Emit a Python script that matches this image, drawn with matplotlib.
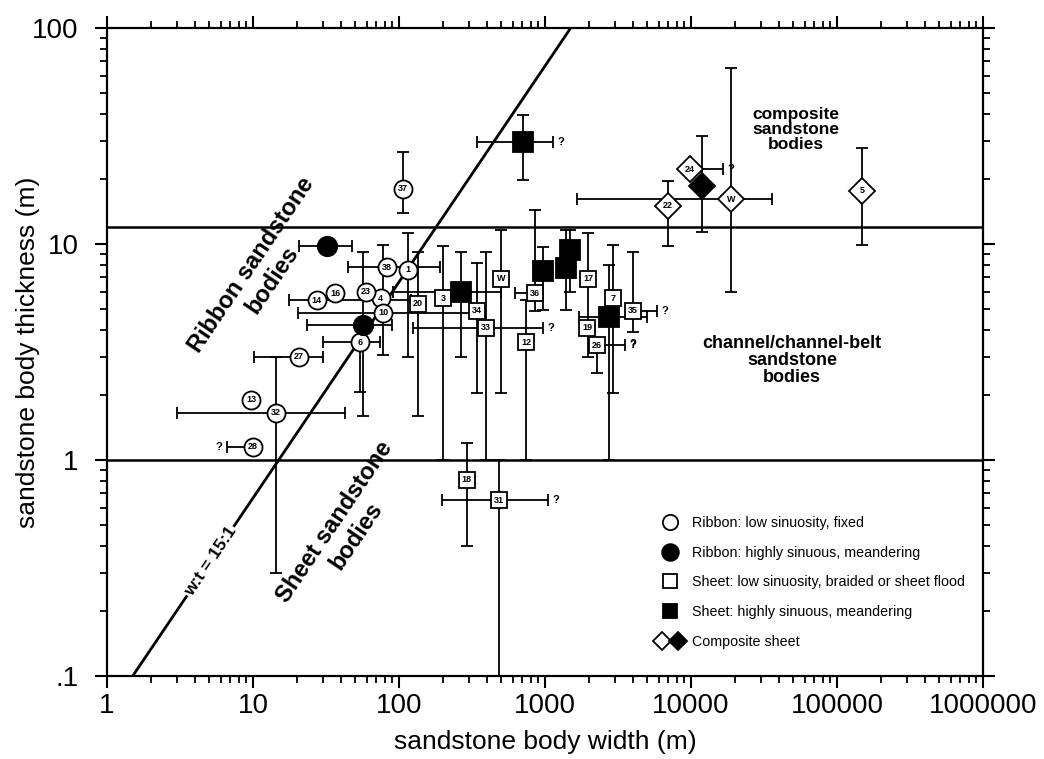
import numpy as np
import matplotlib.pyplot as plt
from matplotlib.lines import Line2D
from matplotlib.legend_handler import HandlerTuple
from matplotlib.ticker import LogLocator, NullFormatter, FixedLocator, FixedFormatter

plt.rcParams['font.family'] = ['Liberation Sans', 'DejaVu Sans']

N = None

# Ribbon: low sinuosity, fixed  (open circles)
rf_lab = ['37', '38', '1', '4', '14', '16', '23', '10', '6', '27', '32', '13', '28']
rf_x = [107, 83, 115, 75, 27.4, 36.5, 59, 78, 54, 20.7, 14.4, 9.7, 10]
rf_y = [18, 7.8, 7.6, 5.6, 5.5, 5.9, 6.0, 4.8, 3.5, 3.0, 1.65, 1.9, 1.15]
rf_xlo = [N, 44.7, N, N, 17.6, N, N, 20.3, 30.2, 10.2, 3.0, N, 6.6]
rf_xhi = [N, 191, N, N, 120, N, N, 320, 74, 30.2, 42.7, N, N]
rf_ylo = [13.9, N, 3.0, N, N, N, N, 3.06, 2.07, N, 0.3, N, N]
rf_yhi = [26.7, N, 11.2, N, N, N, N, 9.9, N, N, 3.0, N, N]
rf_q = ['', '', '', '', '', '', '', '', '', '', '', '', 'l']

# Ribbon: highly sinuous, meandering  (filled circles)
rm_x = [32, 57]
rm_y = [9.8, 4.2]
rm_xlo = [20.7, 23.4]
rm_xhi = [47.6, 90]
rm_ylo = [N, 1.6]
rm_yhi = [N, 9.2]

# Sheet: low sinuosity, braided or sheet flood  (open squares)
sb_lab = ['20', '3', '34', '33', 'W', '36', '12', '17', '7', '35', '19', '26', '18', '31']
sb_x = [135, 200, 342, 394, 500, 855, 741, 1971, 2924, 4009, 1940, 2271, 292, 484]
sb_y = [5.3, 5.6, 4.9, 4.1, 6.9, 5.9, 3.5, 6.9, 5.6, 4.9, 4.1, 3.4, 0.81, 0.65]
sb_xlo = [N, N, N, 125, N, 623, N, N, N, N, N, N, N, 197]
sb_xhi = [N, N, N, 970, N, N, N, N, N, 5853, N, 3532, N, 1049]
sb_ylo = [1.6, 1.0, 2.04, 1.0, 2.04, 4.9, 1.0, 3.0, 2.04, 3.9, N, 2.53, 0.40, 0.1]
sb_yhi = [9.2, 9.8, 8.2, 9.2, 11.6, 14.4, 5.5, 11.2, 9.9, 9.2, N, N, 1.2, 1.0]
sb_q = ['', '', '', 'r', '', '', '', '', '', 'rb', '', 'r', '', 'r']

# Sheet: highly sinuous, meandering  (filled squares)
sm_x = [707, 266, 969, 1484, 1392, 2744]
sm_y = [29.6, 6.0, 7.5, 9.4, 7.7, 4.6]
sm_xlo = [342, 91, N, N, N, 1709]
sm_xhi = [1135, 500, N, N, N, 4997]
sm_ylo = [19.8, 3.0, 4.94, 6.0, 4.94, 1.0]
sm_yhi = [39.5, 9.2, 9.7, 11.6, 11.6, 8.0]
sm_q = ['r', '', '', '', '', '']

# Composite sheet  (open / filled diamonds)
co_lab = ['24', '22', 'W', '5']
co_x = [9843, 6955, 18790, 148300]
co_y = [22.2, 15.0, 16.1, 17.6]
co_xlo = [N, N, 1656, N]
co_xhi = [16560, N, 35870, N]
co_ylo = [N, 9.8, 6.0, 9.9]
co_yhi = [N, 19.6, 65, 27.8]
co_q = ['r', '', '', '']
cf_x = [11900]
cf_y = [18.6]
cf_ylo = [11.4]
cf_yhi = [31.6]

legend_labels = ['Ribbon: low sinuosity, fixed',
                 'Ribbon: highly sinuous, meandering',
                 'Sheet: low sinuosity, braided or sheet flood',
                 'Sheet: highly sinuous, meandering',
                 'Composite sheet']

x_ticks = [1, 10, 100, 1000, 10000, 100000, 1000000]
x_ticklabels = ['1', '10', '100', '1000', '10000', '100000', '1000000']
y_ticks = [0.1, 1, 10, 100]
y_ticklabels = ['.1', '1', '10', '100']

fig = plt.figure(figsize=(10.44, 7.59), dpi=100)
ax = fig.add_axes([0.1025, 0.1094, 0.8391, 0.8538])
ax.set_xscale('log')
ax.set_yscale('log')
ax.set_xlim(1, 1e6)
ax.set_ylim(0.1, 100)

LW = 1.3


def draw_bars(x, y, xlo, xhi, ylo, yhi, q=None):
    for i in range(len(x)):
        if xlo[i] is not None or xhi[i] is not None:
            lo = x[i] - xlo[i] if xlo[i] is not None else 0
            hi = xhi[i] - x[i] if xhi[i] is not None else 0
            ax.errorbar(x[i], y[i], xerr=[[lo], [hi]], fmt='none', ecolor='k',
                        elinewidth=LW, capsize=4, capthick=LW, zorder=2)
        if ylo[i] is not None or yhi[i] is not None:
            lo = y[i] - ylo[i] if ylo[i] is not None else 0
            hi = yhi[i] - y[i] if yhi[i] is not None else 0
            ax.errorbar(x[i], y[i], yerr=[[lo], [hi]], fmt='none', ecolor='k',
                        elinewidth=LW, capsize=4, capthick=LW, zorder=2)
        if q is None:
            continue
        if 'r' in q[i]:
            ax.text(xhi[i] * 1.07, y[i], '?', ha='left', va='center',
                    fontsize=8, fontweight='bold', zorder=5)
        if 'l' in q[i]:
            ax.text(xlo[i] / 1.07, y[i], '?', ha='right', va='center',
                    fontsize=8, fontweight='bold', zorder=5)
        if 'b' in q[i]:
            ax.text(x[i], ylo[i] / 1.08, '?', ha='center', va='top',
                    fontsize=8, fontweight='bold', zorder=5)


def draw_marks(x, y, marker, face, ms, labels=None):
    ax.plot(x, y, ls='none', marker=marker, mfc=face, mec='k', mew=LW,
            ms=ms, zorder=4)
    if labels:
        for xi, yi, t in zip(x, y, labels):
            ax.text(xi, yi, t, ha='center', va='center', fontsize=6.5,
                    fontweight='bold', zorder=5)


draw_bars(rf_x, rf_y, rf_xlo, rf_xhi, rf_ylo, rf_yhi, rf_q)
draw_bars(rm_x, rm_y, rm_xlo, rm_xhi, rm_ylo, rm_yhi)
draw_bars(sb_x, sb_y, sb_xlo, sb_xhi, sb_ylo, sb_yhi, sb_q)
draw_bars(sm_x, sm_y, sm_xlo, sm_xhi, sm_ylo, sm_yhi, sm_q)
draw_bars(co_x, co_y, co_xlo, co_xhi, co_ylo, co_yhi, co_q)
draw_bars(cf_x, cf_y, [N], [N], cf_ylo, cf_yhi)

draw_marks(rf_x, rf_y, 'o', 'white', 13, rf_lab)
draw_marks(rm_x, rm_y, 'o', 'black', 14)
draw_marks(sb_x, sb_y, 's', 'white', 12, sb_lab)
draw_marks(sm_x, sm_y, 's', 'black', 14)
draw_marks(co_x, co_y, 'D', 'white', 13, co_lab)
draw_marks(cf_x, cf_y, 'D', 'black', 13)

# class boundaries
ax.axhline(12, color='k', lw=1.8, zorder=1)
ax.axhline(1, color='k', lw=1.8, zorder=1)

# width:thickness = 15:1 line
w_line = np.logspace(0, 6, 200)
ax.plot(w_line, w_line / 15, color='k', lw=2, zorder=1)
p1 = ax.transData.transform((1, 1 / 15))
p2 = ax.transData.transform((1000, 1000 / 15))
ang = np.degrees(np.arctan2(p2[1] - p1[1], p2[0] - p1[0]))
ax.text(5.1, 5.1 / 15, 'w:t = 15:1', rotation=ang, ha='center', va='center',
        fontsize=12.5, fontweight='bold', rotation_mode='anchor', zorder=3,
        bbox=dict(facecolor='white', edgecolor='none', pad=1))

ax.text(11.5, 7.4, 'Ribbon sandstone\nbodies', rotation=ang, ha='center',
        va='center', fontsize=17, fontweight='bold', rotation_mode='anchor',
        linespacing=1.15)
ax.text(43, 0.48, 'Sheet sandstone\nbodies', rotation=ang, ha='center',
        va='center', fontsize=17, fontweight='bold', rotation_mode='anchor',
        linespacing=1.15)
ax.text(52400, 34, 'composite\nsandstone\nbodies', ha='center', va='center',
        fontsize=12.5, fontweight='bold', linespacing=1.0)
ax.text(49200, 2.9, 'channel/channel-belt\nsandstone\nbodies', ha='center',
        va='center', fontsize=13, fontweight='bold', linespacing=1.0)

# axes styling
ax.xaxis.set_major_locator(FixedLocator(x_ticks))
ax.xaxis.set_major_formatter(FixedFormatter(x_ticklabels))
ax.yaxis.set_major_locator(FixedLocator(y_ticks))
ax.yaxis.set_major_formatter(FixedFormatter(y_ticklabels))
ax.xaxis.set_minor_locator(LogLocator(base=10, subs=np.arange(2, 10), numticks=20))
ax.yaxis.set_minor_locator(LogLocator(base=10, subs=np.arange(2, 10), numticks=20))
ax.xaxis.set_minor_formatter(NullFormatter())
ax.yaxis.set_minor_formatter(NullFormatter())
ax.tick_params(which='both', direction='out', top=True, right=True, labelsize=20)
ax.tick_params(which='major', length=8.5, width=1.5)
ax.tick_params(which='minor', length=5, width=1.3)
ax.tick_params(axis='y', pad=12)
ax.tick_params(axis='x', pad=4)
for s in ax.spines.values():
    s.set_linewidth(1.6)

ax.set_xlabel('sandstone body width (m)', fontsize=19)
ax.set_ylabel('sandstone body thickness (m)', fontsize=19)
ax.xaxis.set_label_coords(0.5, -0.083)
ax.yaxis.set_label_coords(-0.077, 0.5)

# legend
handles = [
    Line2D([], [], ls='none', marker='o', mfc='white', mec='k', mew=LW, ms=11),
    Line2D([], [], ls='none', marker='o', mfc='black', mec='k', mew=LW, ms=12),
    Line2D([], [], ls='none', marker='s', mfc='white', mec='k', mew=LW, ms=10),
    Line2D([], [], ls='none', marker='s', mfc='black', mec='k', mew=LW, ms=10),
    (Line2D([], [], ls='none', marker='D', mfc='white', mec='k', mew=LW, ms=9),
     Line2D([], [], ls='none', marker='D', mfc='black', mec='k', mew=LW, ms=9)),
]
ax.legend(handles, legend_labels, loc='upper left', bbox_to_anchor=(0.625, 0.247),
          frameon=False, fontsize=10.3, labelspacing=1.1, handletextpad=0.4,
          handlelength=2.2, borderpad=0, borderaxespad=0,
          handler_map={tuple: HandlerTuple(ndivide=None, pad=0.1)})

fig.savefig('out.png', dpi=100)
